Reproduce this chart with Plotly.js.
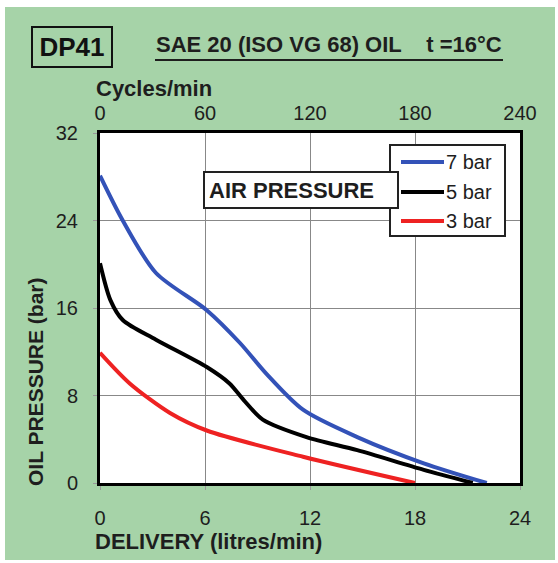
<!DOCTYPE html>
<html>
<head>
<meta charset="utf-8">
<script src="https://cdn.plot.ly/plotly-3.0.1.min.js"></script>
<style>
html,body{margin:0;padding:0;background:#ffffff;width:558px;height:563px;overflow:hidden;}
#chart{position:absolute;left:5px;top:7px;width:550px;height:553px;}
</style>
</head>
<body>
<div id="chart"></div>
<script>
// Data
const seriesNames = ["7 bar", "5 bar", "3 bar"];
const delivery7 = [0, 1.3, 3.2, 6.1, 8.0, 9.5, 11.6, 14.7, 18.5, 22.1];
const pressure7 = [28.1, 24.0, 19.2, 15.8, 12.8, 10.0, 6.7, 4.2, 1.8, 0];
const delivery5 = [0, 0.6, 1.3, 3.2, 6.1, 7.4, 8.2, 9.3, 11.8, 14.7, 18.5, 21.3];
const pressure5 = [20.1, 16.7, 14.9, 13.1, 10.6, 9.1, 7.6, 5.8, 4.2, 3.0, 1.2, 0];
const delivery3 = [0, 1.7, 4.0, 6.1, 11.6, 18.0];
const pressure3 = [11.9, 9.1, 6.4, 4.8, 2.4, 0];
const deliveryTicks = [0, 6, 12, 18, 24];
const cyclesTicks = [0, 60, 120, 180, 240];
const pressureTicks = [0, 8, 16, 24, 32];

const colors = ["#3352b8", "#000000", "#ee2222"];
const FONT = "Liberation Sans, Arial, sans-serif";
const TXT = "#1e1e1e";

// page px -> paper coords (plot area: x 100..520, y 133..483 on page)
const PL = 100, PT = 133, PW = 420, PH = 350;
const px = x => (x - PL) / PW;
const py = y => 1 - (y - PT) / PH;

const xs = [delivery7, delivery5, delivery3];
const ys = [pressure7, pressure5, pressure3];
const traces = seriesNames.map((n, i) => ({
  type: "scatter", mode: "lines", name: n, x: xs[i], y: ys[i],
  line: {color: colors[i], width: 4, shape: "spline", smoothing: 0.8},
  showlegend: false
}));
traces.push({x: [], y: [], xaxis: "x2", yaxis: "y", showlegend: false, hoverinfo: "skip", type: "scatter"});

// custom legend (box + samples + labels)
const legendTop = [162, 192, 221];
const shapes = [
  {type: "line", xref: "paper", yref: "paper", x0: px(155), x1: px(503), y0: py(60), y1: py(60),
   line: {color: TXT, width: 2}},
  {type: "rect", xref: "paper", yref: "paper", layer: "above",
   x0: px(390), x1: px(505), y0: py(236), y1: py(145),
   fillcolor: "#ffffff", line: {color: "#222222", width: 2}}
];
const annotations = [];
seriesNames.forEach((n, i) => {
  shapes.push({type: "line", xref: "paper", yref: "paper", layer: "above",
    x0: px(401), x1: px(444), y0: py(legendTop[i]), y1: py(legendTop[i]),
    line: {color: colors[i], width: 4}});
  annotations.push({text: n, xref: "paper", yref: "paper", x: px(444), y: py(legendTop[i]),
    xanchor: "left", yanchor: "middle", showarrow: false,
    font: {family: FONT, size: 20, color: TXT}});
});

annotations.push(
  {text: "<b>DP41</b>", xref: "paper", yref: "paper", x: px(71.5), y: py(47),
   xanchor: "center", yanchor: "middle", showarrow: false,
   font: {family: FONT, size: 26, color: "#111111"},
   bordercolor: "#111111", borderwidth: 2, borderpad: 3, width: 72, height: 32},
  {text: "<b>SAE 20 (ISO VG 68) OIL\u00A0\u00A0\u00A0\u00A0t =16°C</b>", xref: "paper", yref: "paper",
   x: px(154), y: py(44), xanchor: "left", yanchor: "middle", showarrow: false,
   font: {family: FONT, size: 22, color: TXT}},
  {text: "<b>Cycles/min</b>", xref: "paper", yref: "paper", x: px(94), y: py(88),
   xanchor: "left", yanchor: "middle", showarrow: false,
   font: {family: FONT, size: 22, color: TXT}},
  {text: "<b>DELIVERY (litres/min)</b>", xref: "paper", yref: "paper", x: px(93), y: py(541),
   xanchor: "left", yanchor: "middle", showarrow: false,
   font: {family: FONT, size: 22, color: TXT}},
  {text: "<b>OIL PRESSURE (bar)</b>", xref: "paper", yref: "paper", x: px(35), y: py(382),
   xanchor: "center", yanchor: "middle", showarrow: false, textangle: -90,
   font: {family: FONT, size: 21, color: TXT}},
  {text: "<b>AIR PRESSURE</b>", xref: "paper", yref: "paper", x: px(203), y: py(190),
   xanchor: "left", yanchor: "middle", showarrow: false, align: "left",
   font: {family: FONT, size: 22, color: TXT},
   bgcolor: "#ffffff", bordercolor: "#222222", borderwidth: 2, borderpad: 4, width: 184, height: 26}
);

const tickFont = {family: FONT, size: 20, color: TXT};
const layout = {
  width: 550, height: 553,
  margin: {l: 95, r: 35, t: 126, b: 77, pad: 0},
  paper_bgcolor: "#a6d3a8",
  plot_bgcolor: "#ffffff",
  font: {family: FONT, color: TXT, size: 20},
  showlegend: false,
  xaxis: {
    range: [0, 24], tickvals: deliveryTicks, ticktext: deliveryTicks.map(String),
    showgrid: true, gridcolor: "#888888", gridwidth: 1,
    showline: true, linecolor: "#000000", linewidth: 3, mirror: true,
    ticks: "outside", ticklen: 4, tickcolor: "#999999",
    ticklabelstandoff: 11,
    zeroline: false, fixedrange: true, tickfont: tickFont
  },
  xaxis2: {
    range: [0, 240], tickvals: cyclesTicks, ticktext: cyclesTicks.map(String),
    overlaying: "x", side: "top", anchor: "y",
    showgrid: false, showline: false, zeroline: false,
    ticks: "", ticklabelstandoff: 8, fixedrange: true, tickfont: tickFont
  },
  yaxis: {
    range: [0, 32], tickvals: pressureTicks, ticktext: pressureTicks.map(String),
    showgrid: true, gridcolor: "#888888", gridwidth: 1,
    showline: true, linecolor: "#000000", linewidth: 3, mirror: true,
    ticks: "outside", ticklen: 4, tickcolor: "#999999",
    ticklabelstandoff: 11,
    zeroline: false, fixedrange: true, tickfont: tickFont
  },
  shapes: shapes,
  annotations: annotations
};

Plotly.newPlot("chart", traces, layout, {displayModeBar: false, staticPlot: true});
</script>
</body>
</html>
